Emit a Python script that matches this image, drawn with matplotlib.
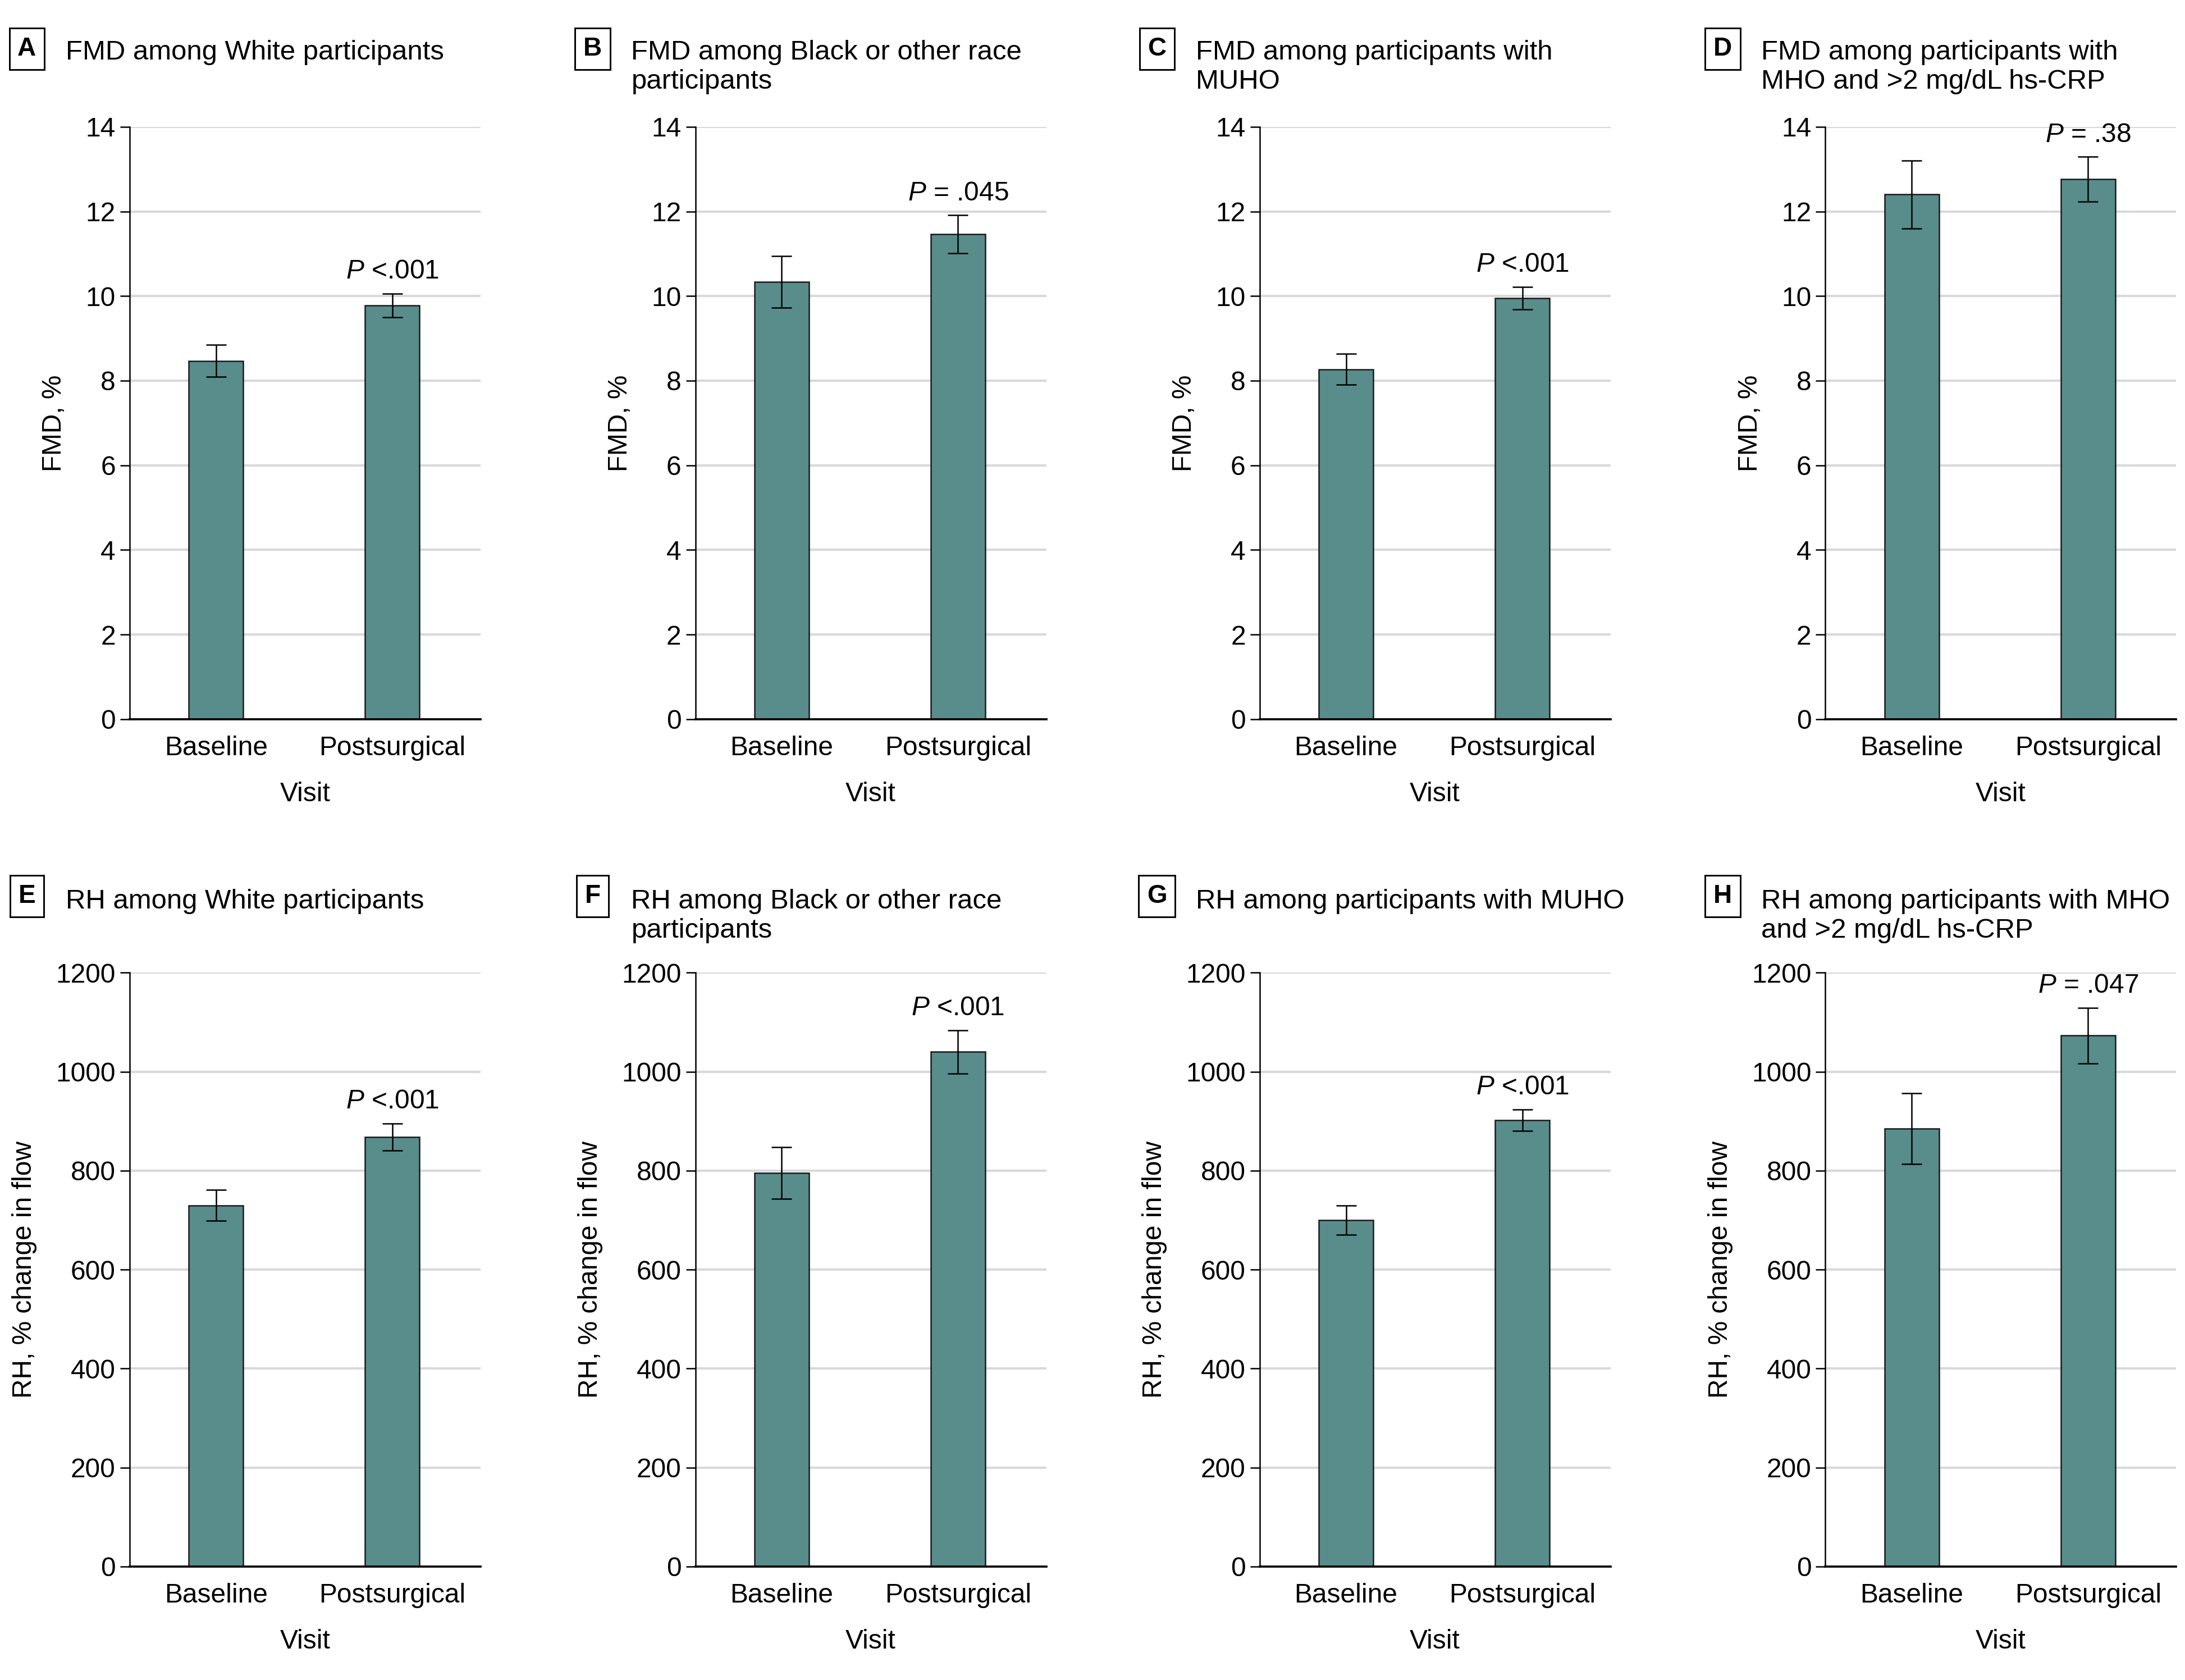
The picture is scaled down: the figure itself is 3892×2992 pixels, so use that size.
import numpy as np
import matplotlib
matplotlib.use("Agg")
import matplotlib.pyplot as plt
from matplotlib import font_manager

# panel data
visits = ["Baseline", "Postsurgical"]
letters = ["A", "B", "C", "D", "E", "F", "G", "H"]
titles = [
    "FMD among White participants",
    "FMD among Black or other race\nparticipants",
    "FMD among participants with\nMUHO",
    "FMD among participants with\nMHO and >2 mg/dL hs-CRP",
    "RH among White participants",
    "RH among Black or other race\nparticipants",
    "RH among participants with MUHO",
    "RH among participants with MHO\nand >2 mg/dL hs-CRP",
]
fmd_means = [[8.47, 9.78], [10.34, 11.46], [8.27, 9.95], [12.40, 12.76]]
fmd_err = [[0.38, 0.28], [0.61, 0.45], [0.36, 0.27], [0.80, 0.53]]
rh_means = [[730, 868], [795, 1040], [700, 902], [885, 1073]]
rh_err = [[31, 27], [52, 44], [30, 22], [71, 56]]
fmd_p = ["P<.001", "P=.045", "P<.001", "P=.38"]
rh_p = ["P<.001", "P<.001", "P<.001", "P=.047"]

names = {f.name for f in font_manager.fontManager.ttflist}
main_font = "Liberation Sans Narrow" if "Liberation Sans Narrow" in names else "Liberation Sans"
plt.rcParams["font.family"] = [main_font, "DejaVu Sans"]
plt.rcParams["font.size"] = 11.5
plt.rcParams["mathtext.fontset"] = "custom"
plt.rcParams["mathtext.it"] = main_font + ":italic"
plt.rcParams["mathtext.rm"] = main_font

bar_color = "#588d8b"
W, H = 3892, 2992
dpi = 300
fig = plt.figure(figsize=(W / dpi, H / dpi), dpi=dpi)

lefts = [230.8, 1238.5, 2243.7, 3251.4]
ax_w = 625
rows = [(225.9, 1280.7), (1732.4, 2789.8)]

x = np.arange(2)


def p_label(s):
    op = "<" if "<" in s else "="
    num = s.split(op)[1]
    if op == "<":
        return r"$P$" + " <" + num
    return r"$P$" + " = " + num


for i in range(8):
    r, c = divmod(i, 4)
    top, bot = rows[r]
    ax = fig.add_axes([lefts[c] / W, 1 - bot / H, ax_w / W, (bot - top) / H])
    if r == 0:
        means, errs, pv = fmd_means[c], fmd_err[c], fmd_p[c]
        ax.set_ylim(0, 14)
        ax.set_yticks(range(0, 15, 2))
        ax.set_ylabel("FMD, %", labelpad=8)
    else:
        means, errs, pv = rh_means[c], rh_err[c], rh_p[c]
        ax.set_ylim(0, 1200)
        ax.set_yticks(range(0, 1201, 200))
        ax.set_ylabel("RH, % change in flow", labelpad=8)

    ax.set_axisbelow(True)
    ax.yaxis.grid(True, color="#d9d9d9", linewidth=1.0)
    ax.bar(x, means, width=0.31, color=bar_color, edgecolor="#1a1a1a",
           linewidth=0.6, zorder=2)
    ax.errorbar(x, means, yerr=errs, fmt="none", ecolor="black",
                elinewidth=0.6, capsize=4.3, capthick=0.6, zorder=3)
    ax.annotate(p_label(pv), xy=(1, means[1] + errs[1]), xytext=(0, 4),
                textcoords="offset points", ha="center", va="bottom")

    ax.set_xlim(-0.49, 1.5)
    ax.set_xticks(x)
    ax.set_xticklabels(visits)
    ax.tick_params(axis="x", length=0, pad=7)
    ax.tick_params(axis="y", length=4, width=0.6, pad=2)
    ax.set_xlabel("Visit", labelpad=9)
    for s in ["top", "right"]:
        ax.spines[s].set_visible(False)
    ax.spines["left"].set_linewidth(0.6)
    ax.spines["bottom"].set_linewidth(0.9)

    # panel letter box and title
    ty = (71 if r == 0 else 1583)
    by = (87 if r == 0 else 1596)
    fig.text((lefts[c] - 183) / W, 1 - by / H, letters[i],
             ha="center", va="center", fontweight="bold", fontsize=11,
             bbox=dict(boxstyle="square,pad=0.32", fc="white", ec="black", lw=0.7))
    fig.text((lefts[c] - 114) / W, 1 - ty / H, titles[i], fontsize=11.8,
             ha="left", va="top", linespacing=1.2)

fig.savefig("out.png", dpi=dpi)
